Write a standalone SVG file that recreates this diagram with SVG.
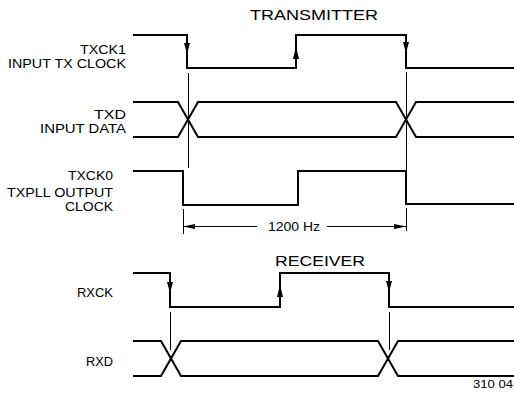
<svg xmlns="http://www.w3.org/2000/svg" width="514" height="397" viewBox="0 0 514 397">
<style>
.sig{fill:none;stroke:#000;stroke-width:2;stroke-linejoin:miter}
.guide{fill:none;stroke:#000;stroke-width:1}
.arr{fill:#000;stroke:none}
.lbl{font-family:"Liberation Sans",Arial,sans-serif;font-size:12px;fill:#000}
.ttl{font-family:"Liberation Sans",Arial,sans-serif;font-size:15.5px;fill:#000}
</style>
<rect width="514" height="397" fill="#fff"/>
<g id="title-transmitter"><text class="ttl" x="250" y="19.5" textLength="128" lengthAdjust="spacingAndGlyphs">TRANSMITTER</text></g>
<g id="title-receiver"><text class="ttl" x="275" y="266" textLength="90" lengthAdjust="spacingAndGlyphs">RECEIVER</text></g>
<g id="txck1">
<text class="lbl" x="80" y="53.5" textLength="46" lengthAdjust="spacingAndGlyphs">TXCK1</text>
<text class="lbl" x="8" y="67.5" textLength="118" lengthAdjust="spacingAndGlyphs">INPUT TX CLOCK</text>
<path class="sig" d="M133,35 H187 V68 H296 V35 H406 V68 H514"/>
<polygon class="arr" points="187,54 184,43 190,43"/>
<polygon class="arr" points="296,47 293,59 299,59"/>
<polygon class="arr" points="406,53 403,42 409,42"/>
</g>
<g id="txd">
<text class="lbl" x="94" y="119" textLength="32" lengthAdjust="spacingAndGlyphs">TXD</text>
<text class="lbl" x="40" y="133" textLength="86" lengthAdjust="spacingAndGlyphs">INPUT DATA</text>
<path class="sig" d="M133,102 H178 L198,137 H396 L416,102 H514"/>
<path class="sig" d="M133,137 H178 L198,102 H396 L416,137 H514"/>
</g>
<g id="txck0">
<text class="lbl" x="68" y="180" textLength="45" lengthAdjust="spacingAndGlyphs">TXCK0</text>
<text class="lbl" x="7" y="197" textLength="106" lengthAdjust="spacingAndGlyphs">TXPLL  OUTPUT</text>
<text class="lbl" x="65" y="211" textLength="48" lengthAdjust="spacingAndGlyphs">CLOCK</text>
<path class="sig" d="M133,171 H183 V205 H298 V171 H406 V204 H514"/>
</g>
<g id="rxck">
<text class="lbl" x="77" y="297" textLength="36" lengthAdjust="spacingAndGlyphs">RXCK</text>
<path class="sig" d="M133,273 H170 V307 H280 V273 H389 V307 H514"/>
<polygon class="arr" points="170,293 167,282 173,282"/>
<polygon class="arr" points="280,285 277,297 283,297"/>
<polygon class="arr" points="389,292 386,281 392,281"/>
</g>
<g id="rxd">
<text class="lbl" x="86" y="366" textLength="27" lengthAdjust="spacingAndGlyphs">RXD</text>
<path class="sig" d="M133,341 H161 L181,376 H378 L398,341 H514"/>
<path class="sig" d="M133,376 H161 L181,341 H378 L398,376 H514"/>
</g>
<g id="connectors">
<path class="guide" d="M188.5,73 V168"/>
<path class="guide" d="M406.5,72 V170"/>
<path class="guide" d="M170.5,312 V350"/>
<path class="guide" d="M389.5,312 V350"/>
<path class="guide" d="M183.5,209 V234 M406.5,208 V231"/>
<path class="guide" d="M183,226.5 H257 M327,226.5 H406"/>
<polygon class="arr" points="183,226.5 195,224 195,229"/>
<polygon class="arr" points="406,226.5 394,224 394,229"/>
</g>
<g id="dimension-label"><text class="lbl" x="268" y="231" textLength="52" lengthAdjust="spacingAndGlyphs">1200 Hz</text></g>
<g id="figure-number"><text class="lbl" x="473" y="388" style="font-size:10px" textLength="40" lengthAdjust="spacingAndGlyphs">310 04</text></g>
</svg>
